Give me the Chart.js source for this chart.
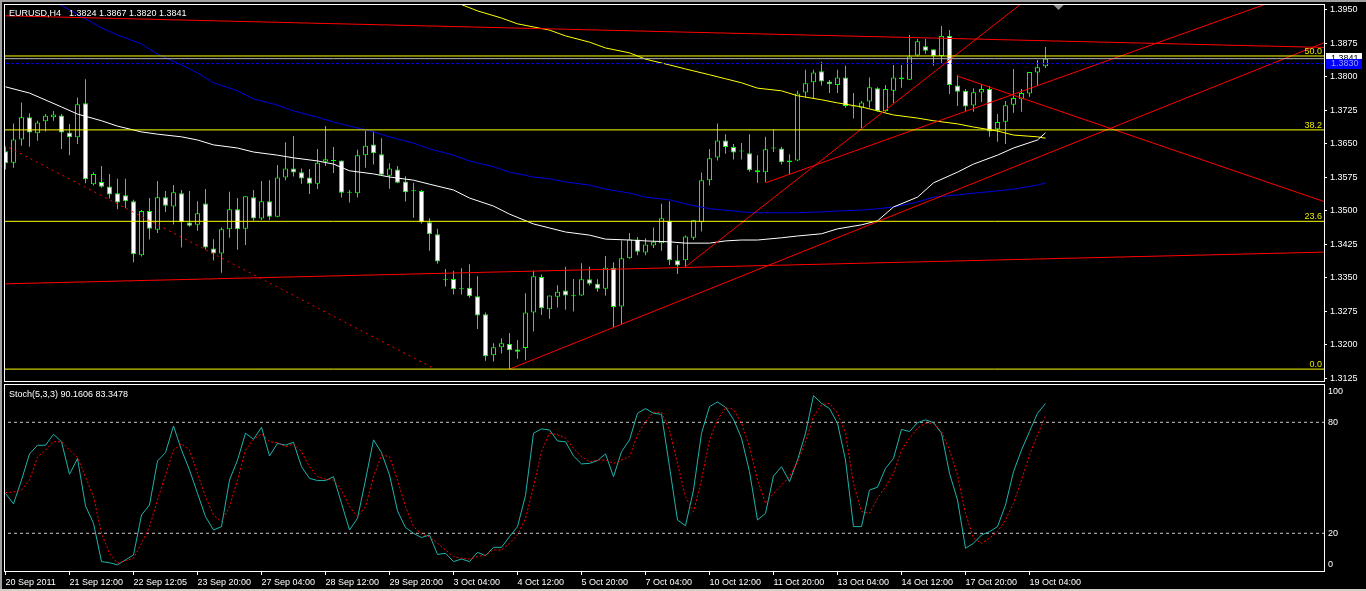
<!DOCTYPE html>
<html><head><meta charset="utf-8">
<script src="https://cdn.jsdelivr.net/npm/chart.js@4.4.0/dist/chart.umd.min.js"></script>
<style>
html,body{margin:0;padding:0;background:#000;width:1366px;height:591px;overflow:hidden}
#wrap{position:relative;width:1366px;height:591px;background:#000}
canvas{position:absolute;left:0}
#c1{top:0}
#c2{top:383px}
</style></head><body>
<div id="wrap"><canvas id="c1" width="1366" height="383"></canvas><canvas id="c2" width="1366" height="208"></canvas></div>
<script>
// ---------------- DATA ----------------
const symbolTitle = 'EURUSD,H4';
const lastQuote = '1.3824 1.3867 1.3820 1.3841';
const stochTitle = 'Stoch(5,3,3) 90.1606 83.3478';

const openP = [1.3634,1.3608,1.3660,1.3710,1.3674,1.3701,1.3710,1.3714,1.3676,1.3665,1.3741,1.3560,1.3565,1.3555,1.3540,1.3535,1.3522,1.3401,1.3500,1.3458,1.3531,1.3510,1.3540,1.3474,1.3469,1.3517,1.3416,1.3405,1.3459,1.3504,1.3460,1.3531,1.3483,1.3522,1.3487,1.3575,1.3595,1.3587,1.3575,1.3561,1.3610,1.3612,1.3613,1.3541,1.3540,1.3625,1.3649,1.3627,1.3579,1.3593,1.3566,1.3544,1.3545,1.3475,1.3448,1.3346,1.3348,1.3325,1.3328,1.3309,1.3269,1.3177,1.3195,1.3202,1.3190,1.3193,1.3273,1.3352,1.3280,1.3308,1.3322,1.3309,1.3311,1.3347,1.3337,1.3326,1.3373,1.3286,1.3394,1.3436,1.3407,1.3423,1.3428,1.3478,1.3390,1.3390,1.3440,1.3475,1.3569,1.3620,1.3658,1.3643,1.3633,1.3629,1.3591,1.3587,1.3640,1.3640,1.3613,1.3613,1.3765,1.3788,1.3813,1.3790,1.3782,1.3799,1.3734,1.3731,1.3745,1.3775,1.3724,1.3769,1.3799,1.3794,1.3848,1.3869,1.3862,1.3847,1.3892,1.3781,1.3769,1.3736,1.3765,1.3773,1.3683,1.3700,1.3738,1.3750,1.3763,1.3810,1.3824];
const highP = [1.3644,1.3696,1.3743,1.3719,1.3702,1.3717,1.3724,1.3717,1.3695,1.3754,1.3795,1.3587,1.3601,1.3583,1.3572,1.3572,1.3525,1.3502,1.3529,1.3567,1.3545,1.3558,1.3547,1.3545,1.3522,1.3549,1.3437,1.3463,1.3543,1.3529,1.3533,1.3547,1.3567,1.3569,1.3603,1.3654,1.3668,1.3595,1.3594,1.3639,1.3690,1.3643,1.3613,1.3547,1.3637,1.3679,1.3678,1.3663,1.3607,1.3601,1.3578,1.3563,1.3547,1.3484,1.3460,1.3370,1.3366,1.3372,1.3381,1.3354,1.3273,1.3204,1.3215,1.3227,1.3211,1.3316,1.3366,1.3358,1.3311,1.3334,1.3375,1.3348,1.3383,1.3375,1.3347,1.3399,1.3385,1.3434,1.3451,1.3442,1.3439,1.3463,1.3516,1.3522,1.3424,1.3445,1.3479,1.3586,1.3639,1.3696,1.3672,1.3650,1.3652,1.3672,1.3625,1.3666,1.3683,1.3644,1.3627,1.3769,1.3816,1.3816,1.3834,1.3793,1.3816,1.3825,1.3764,1.3746,1.3799,1.3777,1.3782,1.3827,1.3827,1.3894,1.3885,1.3885,1.3862,1.3914,1.3905,1.3804,1.3773,1.3775,1.3784,1.3780,1.3717,1.3746,1.3818,1.3773,1.3811,1.3838,1.3867];
const lowP = [1.3593,1.3597,1.3646,1.3644,1.3657,1.3678,1.3702,1.3639,1.3625,1.3650,1.3562,1.3557,1.3552,1.3528,1.3504,1.3506,1.3385,1.3398,1.3436,1.3451,1.3498,1.3470,1.3418,1.3465,1.3456,1.3414,1.3389,1.3362,1.3440,1.3413,1.3424,1.3478,1.3480,1.3480,1.3486,1.3569,1.3577,1.3561,1.3538,1.3549,1.3601,1.3585,1.3530,1.3519,1.3530,1.3597,1.3604,1.3580,1.3550,1.3562,1.3521,1.3485,1.3472,1.3411,1.3382,1.3331,1.3313,1.3313,1.3306,1.3236,1.3165,1.3163,1.3181,1.3146,1.3169,1.3166,1.3230,1.3267,1.3259,1.3284,1.3279,1.3275,1.3310,1.3333,1.3319,1.3310,1.3240,1.3247,1.3393,1.3401,1.3401,1.3417,1.3411,1.3379,1.3359,1.3375,1.3435,1.3454,1.3557,1.3613,1.3628,1.3615,1.3615,1.3588,1.3563,1.3565,1.3632,1.3604,1.3582,1.3612,1.3754,1.3751,1.3781,1.3764,1.3764,1.3731,1.3707,1.3685,1.3731,1.3722,1.3722,1.3742,1.3776,1.3793,1.3846,1.3852,1.3825,1.3832,1.3762,1.3735,1.3724,1.3722,1.3744,1.3666,1.3655,1.3650,1.3720,1.3722,1.3756,1.3780,1.3820];
const closeP = [1.3607,1.3660,1.3710,1.3676,1.3698,1.3713,1.3716,1.3676,1.3665,1.3739,1.3571,1.3583,1.3554,1.3537,1.3519,1.3522,1.3403,1.3500,1.3460,1.3531,1.3512,1.3542,1.3475,1.3467,1.3495,1.3418,1.3405,1.3459,1.3504,1.3459,1.3533,1.3483,1.3522,1.3487,1.3575,1.3595,1.3586,1.3573,1.3561,1.3608,1.3616,1.3613,1.3541,1.3541,1.3625,1.3646,1.3629,1.3581,1.3595,1.3563,1.3542,1.3544,1.3475,1.3448,1.3387,1.3346,1.3325,1.3325,1.3309,1.3266,1.3175,1.3195,1.3204,1.3188,1.3185,1.3273,1.3354,1.3282,1.3311,1.3319,1.3311,1.3309,1.3347,1.3337,1.3326,1.3373,1.3285,1.3394,1.3436,1.3409,1.3425,1.3431,1.3484,1.3390,1.3378,1.3443,1.3479,1.3569,1.3618,1.3658,1.3643,1.3631,1.3633,1.3591,1.3587,1.3638,1.3640,1.3609,1.3609,1.3763,1.3786,1.3810,1.3790,1.3784,1.3799,1.3735,1.3734,1.3743,1.3777,1.3724,1.3773,1.3799,1.3795,1.3846,1.3880,1.3859,1.3847,1.3892,1.3782,1.3767,1.3734,1.3766,1.3773,1.3678,1.3699,1.3737,1.3753,1.3764,1.3811,1.3822,1.3841];

const stochK = [41.6,35.9,48.8,62.9,67.6,67.6,73.5,69.5,51.9,60.4,34.8,25.4,4.7,4.1,2.9,5.6,8.3,29.9,35.3,59.1,63.6,78.0,65.0,54.2,41.6,29.0,21.8,23.6,48.8,59.6,74.1,70.8,77.3,61.8,68.6,67.7,69.2,56.0,49.7,48.5,48.5,50.6,36.2,21.8,28.1,48.8,70.5,63.6,51.5,32.1,23.1,20.0,17.7,19.1,8.6,9.2,4.7,6.1,4.7,9.7,7.9,12.4,12.4,18.2,23.6,40.5,74.1,76.4,75.9,69.9,69.5,61.8,57.5,57.8,59.3,62.9,50.6,64.1,70.5,84.9,87.4,84.9,84.3,56.0,27.2,24.1,43.4,74.1,88.5,91.0,88.1,81.6,71.4,53.3,27.2,30.8,51.0,56.0,47.9,59.6,74.1,94.4,90.3,87.4,79.5,59.6,23.6,23.6,43.4,44.9,55.1,60.5,76.2,75.0,79.8,81.3,79.8,74.1,52.4,38.0,11.9,14.6,19.1,20.9,23.6,35.3,53.3,65.0,75.0,84.9,90.16];
const stochD = [42.0,42.3,43.4,48.8,61.1,65.0,69.5,69.5,65.0,61.1,50.6,39.8,20.0,9.2,3.8,5.2,6.5,14.6,23.6,38.0,51.5,65.0,68.3,65.0,52.4,39.8,29.9,26.3,34.4,48.8,65.0,70.8,73.7,69.5,69.0,66.8,68.3,64.1,56.0,50.6,49.2,48.8,43.4,34.4,29.0,34.4,50.6,62.3,61.4,48.8,34.4,23.6,19.6,18.2,14.6,11.0,7.4,6.5,6.1,7.4,8.3,11.0,11.0,14.6,19.1,28.0,45.2,64.1,74.1,73.2,71.4,65.9,61.4,58.7,59.6,59.6,57.8,59.6,61.4,73.2,80.4,85.4,85.4,75.9,57.8,39.8,31.7,48.8,70.5,81.3,87.9,87.0,79.5,66.8,48.8,36.2,41.6,46.1,50.6,58.7,69.5,83.1,89.4,90.3,84.9,74.1,47.0,31.7,30.8,38.9,45.2,52.4,65.0,71.4,76.8,79.5,79.5,75.0,65.0,51.5,30.8,17.3,14.6,17.3,20.9,27.2,36.2,48.8,62.3,73.2,83.35];

// moving averages: [bar index, price]
const maWhite = [[0,1.3778],[3,1.3764],[7,1.3733],[9,1.3717],[12,1.3702],[14,1.3690],[17,1.3677],[19,1.3672],[22,1.3666],[24,1.3659],[26,1.3648],[29,1.3641],[31,1.3632],[34,1.3625],[36,1.3619],[39,1.3612],[41,1.3605],[43,1.3590],[46,1.3583],[48,1.3576],[51,1.3569],[53,1.3560],[56,1.3547],[58,1.3529],[61,1.3511],[63,1.3493],[66,1.3471],[68,1.3462],[70,1.3453],[73,1.3446],[75,1.3437],[78,1.3435],[80,1.3433],[83,1.3431],[85,1.3428],[88,1.3428],[90,1.3433],[92,1.3435],[94,1.3435],[97,1.3440],[99,1.3444],[102,1.3449],[104,1.3460],[107,1.3469],[109,1.3478],[111,1.3509],[114,1.3531],[116,1.3563],[119,1.3587],[121,1.3605],[124,1.3625],[126,1.3641],[129,1.3659],[130,1.3675]];
const maBlue = [[6,1.3970],[12,1.3910],[14,1.3894],[17,1.3874],[19,1.3851],[22,1.3827],[24,1.3809],[26,1.3787],[29,1.3769],[31,1.3751],[34,1.3737],[36,1.3724],[39,1.3710],[41,1.3699],[44,1.3686],[46,1.3677],[48,1.3666],[51,1.3652],[53,1.3639],[56,1.3625],[58,1.3612],[61,1.3599],[63,1.3587],[66,1.3576],[68,1.3572],[70,1.3565],[73,1.3558],[75,1.3549],[78,1.3540],[80,1.3531],[83,1.3525],[85,1.3516],[88,1.3505],[90,1.3502],[92,1.3498],[94,1.3496],[97,1.3496],[99,1.3496],[102,1.3498],[104,1.3500],[107,1.3502],[109,1.3505],[111,1.3509],[114,1.3520],[116,1.3531],[119,1.3536],[121,1.3540],[124,1.3545],[126,1.3549],[129,1.3558],[130,1.3563]];
const maYellow = [[57,1.3962],[59,1.3948],[62,1.3932],[64,1.3919],[68,1.3905],[70,1.3892],[73,1.3878],[75,1.3865],[78,1.3854],[80,1.3840],[83,1.3827],[85,1.3818],[88,1.3805],[90,1.3796],[92,1.3787],[94,1.3775],[97,1.3769],[99,1.3758],[102,1.3749],[104,1.3742],[107,1.3733],[109,1.3724],[111,1.3715],[114,1.3708],[116,1.3702],[119,1.3695],[121,1.3688],[124,1.3679],[126,1.3670],[129,1.3666],[130,1.3663]];

// trend line objects: [[bar, price],[bar, price]]
const trendSolid = [
  [[0,1.3937],[165,1.3866]],
  [[0,1.3337],[165,1.3408]],
  [[63,1.3146],[165,1.3878]],
  [[85,1.3375],[140,1.4147]],
  [[95,1.3563],[165,1.4011]],
  [[119,1.3802],[165,1.3520]]
];
const trendDotted = [[[-0.2,1.3648],[53.4,1.3149]]];

const fibLow = 1.3146, fibHigh = 1.4548;
const fibLevels = [0.0, 23.6, 38.2, 50.0];
const bidPrice = 1.3841;
const bluePrice = 1.3830;

const priceTicks = [1.3950,1.3875,1.3800,1.3725,1.3650,1.3575,1.3500,1.3425,1.3350,1.3275,1.3200,1.3125];
const priceTickLabels = ['1.3950','1.3875','1.3800','1.3725','1.3650','1.3575','1.3500','1.3425','1.3350','1.3275','1.3200','1.3125'];
const timeLabels = ['20 Sep 2011','21 Sep 12:00','22 Sep 12:05','23 Sep 20:00','27 Sep 04:00','28 Sep 12:00','29 Sep 20:00','3 Oct 04:00','4 Oct 12:00','5 Oct 20:00','7 Oct 04:00','10 Oct 12:00','11 Oct 20:00','13 Oct 04:00','14 Oct 12:00','17 Oct 20:00','19 Oct 04:00'];
const timeLabelBars = [0,8,16,24,32,40,48,56,64,72,80,88,96,104,112,120,128];
const stochLevels = [80, 20];
const stochTickLabels = ['100','80','20','0'];
const stochTickVals = [100, 80, 20, 0];

// ---------------- VIEW ----------------
const X_MIN = -0.1875, X_MAX = 164.8125;
const P_MIN = 1.31194, P_MAX = 1.39634;
const S_MIN = -0.38, S_MAX = 100.7;
const FONT = {family: "'Liberation Sans', Arial, sans-serif", size: 9};
const FONTSTR = "9px 'Liberation Sans', Arial, sans-serif";

const noPad = s => { s.paddingTop = 0; s.paddingBottom = 0; s.paddingLeft = 0; s.paddingRight = 0; };
const bars = openP.map((_, i) => i);
const hline = (p, color, dash) => ({type:'line', data:[{x:X_MIN-1,y:p},{x:X_MAX+1,y:p}], borderColor:color, borderWidth:1, borderDash:dash||[], pointRadius:0, order:1});
const segLine = (pts, color, dash) => ({type:'line', data:pts.map(q=>({x:q[0],y:q[1]})), borderColor:color, borderWidth:1, borderDash:dash||[], pointRadius:0, order:1});
const maLine = (pts, color) => ({type:'line', data:pts.map(q=>({x:q[0],y:q[1]})), borderColor:color, borderWidth:1, pointRadius:0, order:5});
const fibPrice = lv => fibLow + (fibHigh - fibLow) * lv / 100;

const mainDatasets = [
  {type:'bar', data: bars.map(i => ({x:i, y:[lowP[i], highP[i]]})), backgroundColor:'#00ff00', borderWidth:0, barThickness:1, grouped:false, inflateAmount:0, order:10},
  {type:'bar', data: bars.map(i => ({x:i, y:[openP[i], closeP[i]]})), backgroundColor: bars.map(i => closeP[i] < openP[i] ? '#ffffff' : '#000000'),
   borderColor:'#00ff00', borderWidth:1, borderSkipped:false, barThickness:5, minBarLength:1, grouped:false, inflateAmount:0, order:9},
  maLine(maWhite, '#ffffff'),
  maLine(maBlue, '#0000e0'),
  maLine(maYellow, '#ffff00'),
  ...fibLevels.map(lv => hline(fibPrice(lv), '#ffff00')),
  hline(bidPrice, '#b4b4b4'),
  hline(bluePrice, '#0000ff', [3,2]),
  ...trendSolid.map(t => segLine(t, '#ff0000')),
  ...trendDotted.map(t => segLine(t, '#ff0000', [2,4]))
];

const mainDeco = {
  id:'mainDeco',
  afterDraw(chart) {
    const ctx = chart.ctx, ys = chart.scales.y;
    ctx.save();
    ctx.fillStyle = '#a0a0a0';
    ctx.fillRect(0,0,1366,2); ctx.fillRect(0,0,2,383);
    ctx.strokeStyle = '#ffffff'; ctx.lineWidth = 1;
    ctx.strokeRect(4.5, 4.5, 1320, 377);
    ctx.font = FONTSTR; ctx.textBaseline = 'alphabetic';
    ctx.fillStyle = '#ffffff'; ctx.textAlign = 'left';
    ctx.fillText(symbolTitle, 9, 16);
    ctx.fillText(lastQuote, 69, 16);
    ctx.fillStyle = '#e8e800'; ctx.textAlign = 'right';
    fibLevels.forEach(lv => { ctx.fillText(lv.toFixed(1), 1322, ys.getPixelForValue(fibPrice(lv)) - 2); });
    // chart shift marker
    ctx.fillStyle = '#909090';
    ctx.beginPath(); ctx.moveTo(1053.5,5); ctx.lineTo(1063.5,5); ctx.lineTo(1058.5,10); ctx.closePath(); ctx.fill();
    // price boxes
    const yb = ys.getPixelForValue(bidPrice), yl = ys.getPixelForValue(bluePrice);
    ctx.textAlign = 'left'; ctx.textBaseline = 'middle';
    ctx.fillStyle = '#ffffff'; ctx.fillRect(1326, Math.round(yb)-6, 36, 11);
    ctx.fillStyle = '#000000'; ctx.fillText(bidPrice.toFixed(4), 1331, yb);
    ctx.fillStyle = '#0000ff'; ctx.fillRect(1326, Math.round(yl)-5, 36, 10);
    ctx.fillStyle = '#9a9aff'; ctx.fillText(bluePrice.toFixed(4), 1331, yl);
    ctx.restore();
  }
};

new Chart(document.getElementById('c1'), {
  type:'bar',
  data:{ datasets: mainDatasets },
  options:{
    responsive:false, animation:false, devicePixelRatio:1, events:[],
    layout:{ padding:{ left:4, top:4, right:0, bottom:2 } },
    plugins:{ legend:{display:false}, tooltip:{enabled:false} },
    scales:{
      x:{ type:'linear', min:X_MIN, max:X_MAX, display:false, offset:false, grid:{display:false} },
      y:{ position:'right', min:P_MIN, max:P_MAX, beginAtZero:false,
          afterBuildTicks: s => { s.ticks = priceTicks.map(v => ({value:v})); },
          afterFit: s => { s.width = 42; noPad(s); },
          ticks:{ color:'#ffffff', font:FONT, padding:3, autoSkip:false, callback:(v,i) => priceTickLabels[i] },
          grid:{ drawOnChartArea:false, drawTicks:true, tickLength:3, color:'#ffffff' },
          border:{ display:false } }
    }
  },
  plugins:[mainDeco]
});

const stochDeco = {
  id:'stochDeco',
  afterDraw(chart) {
    const ctx = chart.ctx;
    ctx.save();
    ctx.fillStyle = '#a0a0a0'; ctx.fillRect(0,0,2,208);
    ctx.fillStyle = '#d4d0c8'; ctx.fillRect(0,206,1366,2);
    ctx.strokeStyle = '#ffffff'; ctx.lineWidth = 1;
    ctx.strokeRect(4.5, 1.5, 1320, 187);
    ctx.font = FONTSTR; ctx.fillStyle = '#ffffff'; ctx.textAlign = 'left'; ctx.textBaseline = 'alphabetic';
    ctx.fillText(stochTitle, 9, 14);
    ctx.restore();
  }
};

const STOCH_LABEL_INSET = 3.3;
new Chart(document.getElementById('c2'), {
  type:'line',
  data:{ datasets:[
    ...stochLevels.map(v => ({data:[{x:X_MIN-1,y:v},{x:X_MAX+1,y:v}], borderColor:'#c8c8c8', borderWidth:1, borderDash:[3,3], pointRadius:0, order:3})),
    {data: bars.map(i => ({x:i, y:stochK[i]})), borderColor:'#20b2aa', borderWidth:1, pointRadius:0, order:2},
    {data: bars.map(i => ({x:i, y:stochD[i]})), borderColor:'#ff0000', borderWidth:1, borderDash:[2,2], pointRadius:0, order:1}
  ]},
  options:{
    responsive:false, animation:false, devicePixelRatio:1, events:[],
    layout:{ padding:{ left:4, top:1, right:0, bottom:0 } },
    plugins:{ legend:{display:false}, tooltip:{enabled:false} },
    scales:{
      x:{ type:'linear', position:'bottom', min:X_MIN, max:X_MAX, offset:false,
          afterBuildTicks: s => { s.ticks = timeLabelBars.map(v => ({value:v})); },
          afterFit: s => { s.height = 20; noPad(s); },
          ticks:{ color:'#ffffff', font:FONT, align:'start', maxRotation:0, minRotation:0, autoSkip:false, padding:2,
                  callback:(v,i) => timeLabels[i] },
          grid:{ drawOnChartArea:false, drawTicks:true, tickLength:4, color:'#ffffff' },
          border:{ display:false } },
      y:{ position:'right', min:S_MIN, max:S_MAX,
          afterBuildTicks: s => { s.ticks = stochTickVals.map(v => ({value: v === 100 ? v - STOCH_LABEL_INSET : (v === 0 ? v + STOCH_LABEL_INSET : v)})); },
          afterFit: s => { s.width = 42; noPad(s); },
          ticks:{ color:'#ffffff', font:FONT, padding:4, autoSkip:false, callback:(v,i) => stochTickLabels[i] },
          grid:{ drawOnChartArea:false, drawTicks:false },
          border:{ display:false } }
    }
  },
  plugins:[stochDeco]
});
</script>
</body></html>
